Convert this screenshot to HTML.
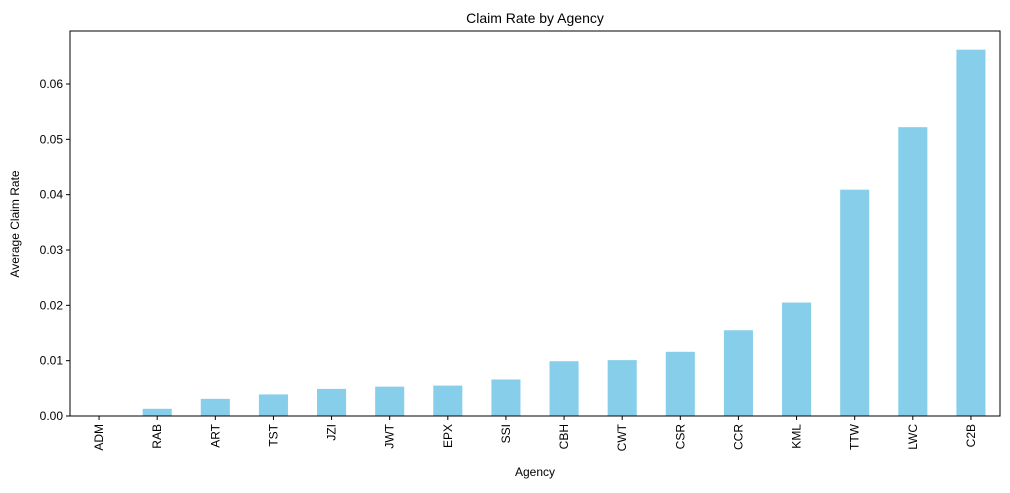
<!DOCTYPE html>
<html><head><meta charset="utf-8"><style>
body{margin:0;background:#fff;}
svg text{font-family:"Liberation Sans","DejaVu Sans",sans-serif;fill:#000;}
</style></head><body>
<svg id="chart" width="1010" height="488" xmlns="http://www.w3.org/2000/svg">
<rect width="1010" height="488" fill="#fff"/>
<text x="535" y="23" text-anchor="middle" font-size="14">Claim Rate by Agency</text>
<g id="bars"></g>
<g id="axes"></g>
<text x="535" y="476" text-anchor="middle" font-size="12">Agency</text>
<text transform="translate(19,224) rotate(-90)" text-anchor="middle" font-size="12">Average Claim Rate</text>
</svg>
<script>
const categories=["ADM","RAB","ART","TST","JZI","JWT","EPX","SSI","CBH","CWT","CSR","CCR","KML","TTW","LWC","C2B"];
const values=[0,0.0013,0.0031,0.0039,0.0049,0.0053,0.0055,0.0066,0.0099,0.0101,0.0116,0.0155,0.0205,0.0409,0.0522,0.0662];
const yTicks=[0,0.01,0.02,0.03,0.04,0.05,0.06];
const yTickLabels=["0.00","0.01","0.02","0.03","0.04","0.05","0.06"];
const L=70,R=1000,T=31,B=416;
const yScale=v=>B-v*(B-84)/0.06;
const step=(R-L)/categories.length;
const xScale=i=>L+step*(i+0.5);
const NS="http://www.w3.org/2000/svg";
const bars=document.getElementById('bars'),axes=document.getElementById('axes');
function mk(tag,attrs,parent){const e=document.createElementNS(NS,tag);for(const k in attrs)e.setAttribute(k,attrs[k]);parent.appendChild(e);return e;}
categories.forEach((c,i)=>{
  const bw=step*0.5,y=yScale(values[i]);
  const r=mk('rect',{x:xScale(i)-bw/2,y:y,width:bw,height:B-y,fill:'#87ceeb'},bars);
  
  
  mk('line',{x1:xScale(i),x2:xScale(i),y1:B,y2:B+4,stroke:'#000'},axes);
  const t=mk('text',{transform:`translate(${xScale(i)+4},${B+8}) rotate(-90)`,'text-anchor':'end','font-size':'12'},axes);
  t.textContent=c;
  
  
});
yTicks.forEach((v,i)=>{
  const y=yScale(v);
  mk('line',{x1:L-4,x2:L,y1:y,y2:y,stroke:'#000'},axes);
  const t=mk('text',{x:L-7,y:y+4,'text-anchor':'end','font-size':'12'},axes);
  t.textContent=yTickLabels[i];
  
  
});
const f=mk('rect',{x:L,y:T,width:R-L,height:B-T,fill:'none',stroke:'#000','stroke-width':1},axes);


</script>
</body></html>
